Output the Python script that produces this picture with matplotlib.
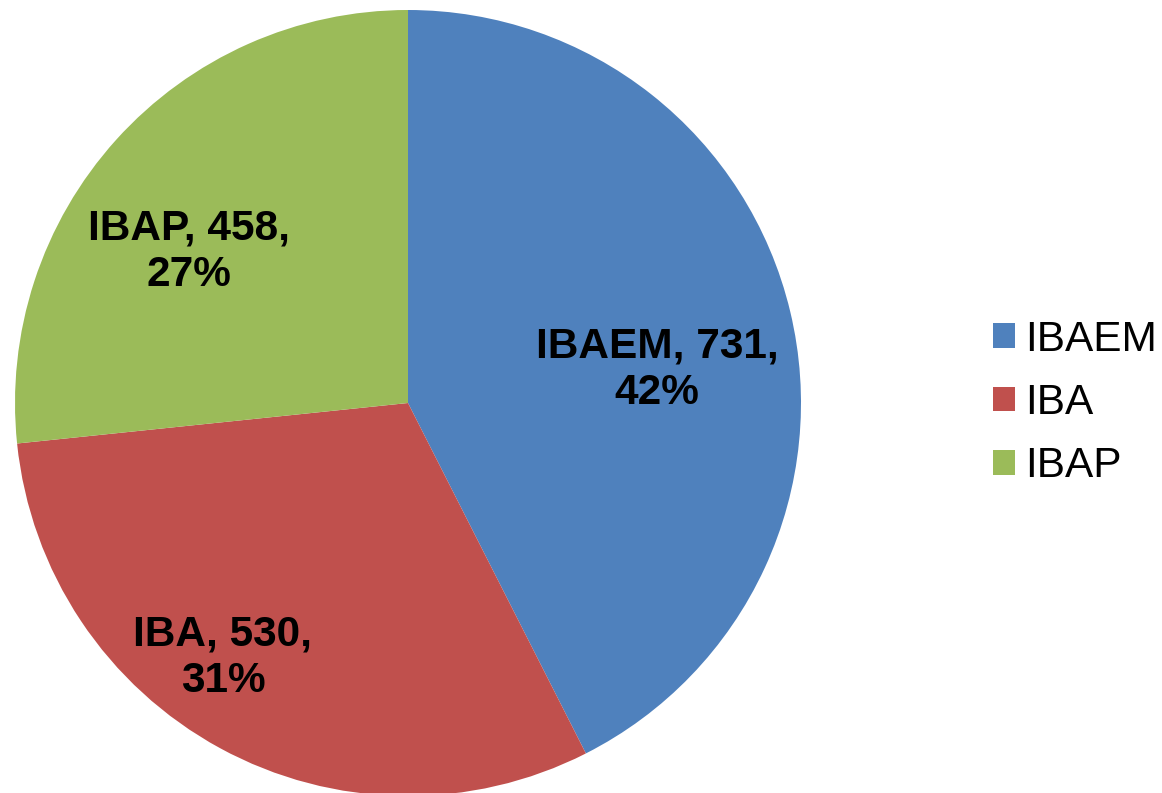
import matplotlib
matplotlib.use("Agg")
import matplotlib.pyplot as plt
from matplotlib.patches import Patch

categories = ["IBAEM", "IBA", "IBAP"]
values = [731, 530, 458]
percents = ["42%", "31%", "27%"]
colors = ["#4F81BD", "#C0504D", "#9BBB59"]

# label anchor positions (axes data units, pie radius = 1)
label_pos = [(0.634, 0.085), (-0.471, -0.648), (-0.557, 0.384)]

plt.rcParams['font.family'] = ['Liberation Sans', 'DejaVu Sans']

W, H = 1162, 793
fig = plt.figure(figsize=(W / 100, H / 100), dpi=100)
cx, cy, R = 408, 793 - 403, 393
ax = fig.add_axes([(cx - R) / W, (cy - R) / H, 2 * R / W, 2 * R / H])
wedges, _ = ax.pie(values, colors=colors, startangle=90, counterclock=False,
                   radius=1, wedgeprops=dict(linewidth=0))
ax.set_xlim(-1, 1)
ax.set_ylim(-1, 1)
ax.set_aspect('equal')
ax.axis('off')

for cat, v, p, (x, y) in zip(categories, values, percents, label_pos):
    ax.text(x, y, f"{cat}, {v},\n{p}", ha='center', va='center',
            fontsize=30.5, fontweight='bold', color='black', linespacing=1.22)

handles = [Patch(facecolor=c, edgecolor='none') for c in colors]
fig.legend(handles, categories, loc='center left',
           bbox_to_anchor=(993 / W, 1 - 403 / H), frameon=False,
           fontsize=30.5, handlelength=0.52, handleheight=0.52,
           handletextpad=0.25, labelspacing=0.55, borderpad=0, borderaxespad=0)

fig.savefig("out.png", dpi=100)
